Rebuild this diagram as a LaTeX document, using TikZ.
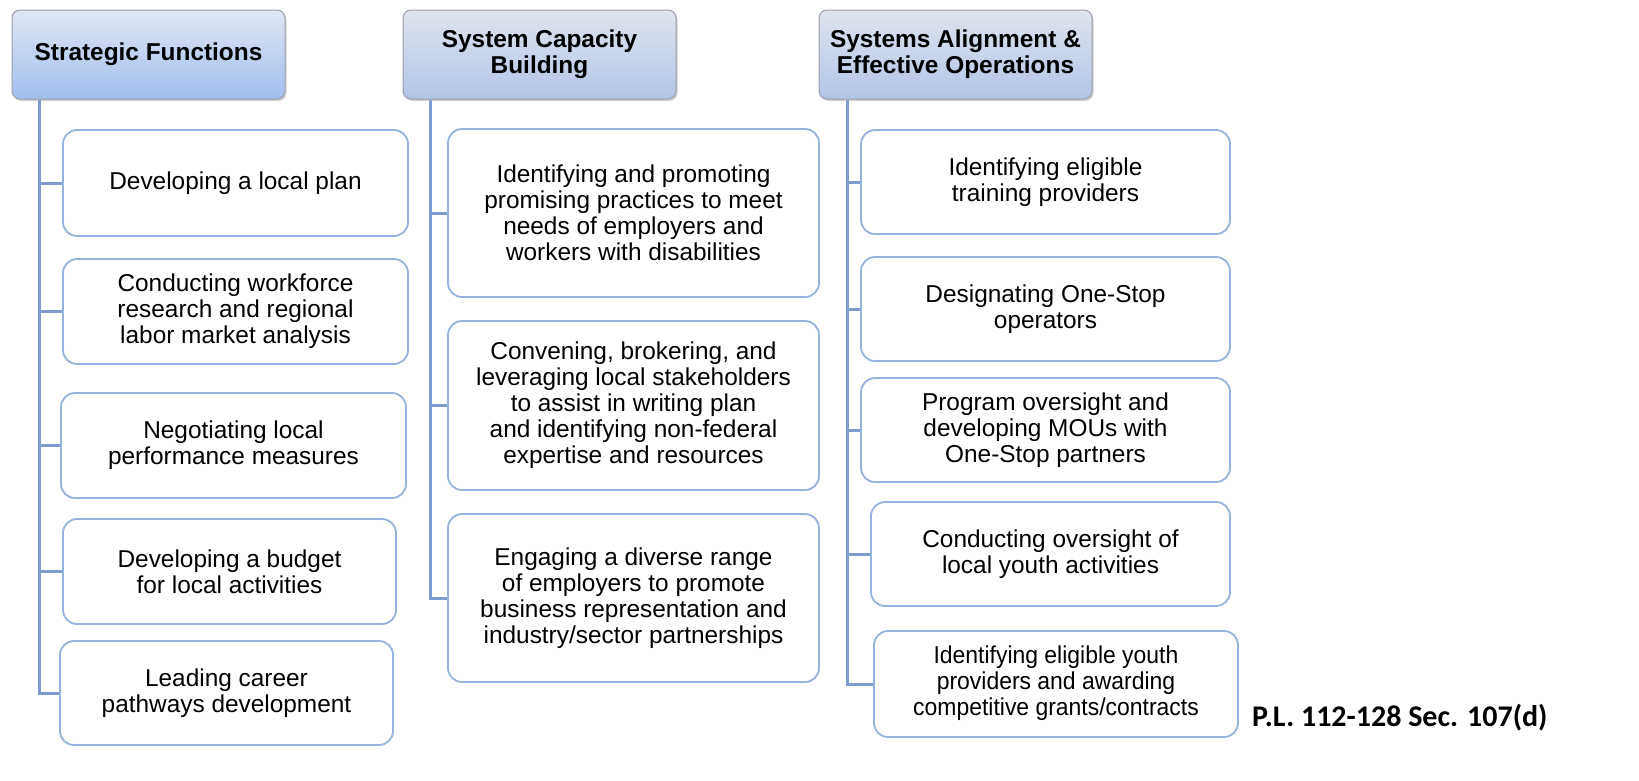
\documentclass[tikz,border=0pt]{standalone}
\usepackage{fontspec}
\setmainfont{Liberation Sans}
\newfontfamily\citefont{Carlito}
\usetikzlibrary{shadows}
\definecolor{conncol}{HTML}{7E9DCE}
\definecolor{boxline}{HTML}{96B3DD}
\definecolor{hdline}{HTML}{9A9FA8}
\definecolor{hdtopA}{HTML}{E0E7F3}
\definecolor{hdbotA}{HTML}{A2BEEE}
\definecolor{hdtopB}{HTML}{DFE4EE}
\definecolor{hdbotB}{HTML}{B2C5E6}
\tikzset{
  x=1pt, y=-1pt,
  txt/.style={font=\fontsize{24.4}{26}\selectfont, align=center, text=black},
  bx/.style={txt, draw=boxline, line width=1.8pt, rounded corners=14pt, fill=white, inner sep=0pt},
  hd/.style={txt, font=\fontsize{24.4}{26}\selectfont\bfseries, draw=hdline, line width=1pt, rounded corners=8pt, inner sep=0pt,
     drop shadow={shadow xshift=1.5pt, shadow yshift=-2pt, opacity=0.35, fill=gray}},
  hdA/.style={hd, top color=hdtopA, bottom color=hdbotA},
  hdB/.style={hd, top color=hdtopB, bottom color=hdbotB},
  conn/.style={draw=conncol, line width=3pt},
}
\newcommand{\bxat}[6]{% name, x1, y1, x2, y2, text
  \pgfmathsetmacro{\mycx}{(#2+#4)/2}\pgfmathsetmacro{\mycy}{(#3+#5)/2}%
  \pgfmathsetmacro{\mywd}{#4-#2}\pgfmathsetmacro{\myht}{#5-#3}%
  \node[bx, minimum width=\mywd pt, minimum height=\myht pt] (#1) at (\mycx,\mycy) {#6};}
\newcommand{\hdat}[7]{% style, name, x1, y1, x2, y2, text
  \pgfmathsetmacro{\mycx}{(#3+#5)/2}\pgfmathsetmacro{\mycy}{(#4+#6)/2}%
  \pgfmathsetmacro{\mywd}{#5-#3}\pgfmathsetmacro{\myht}{#6-#4}%
  \node[#1, minimum width=\mywd pt, minimum height=\myht pt] (#2) at (\mycx,\mycy) {#7};}
\begin{document}
\begin{tikzpicture}
\useasboundingbox (0,0) rectangle (1639,780);
\fill[white] (0,0) rectangle (1639,780);

% headers
\hdat{hdA}{h1}{12}{10}{285}{99}{Strategic Functions}
\hdat{hdB}{h2}{403}{10}{676}{99}{System Capacity\\Building}
\hdat{hdB}{h3}{819}{10}{1092}{99}{Systems Alignment \&\\Effective Operations}

% column 1
\bxat{a1}{63}{130}{408}{236}{Developing a local plan}
\bxat{a2}{63}{259}{408}{364}{Conducting workforce\\research and regional\\labor market analysis}
\bxat{a3}{61}{393}{406}{498}{Negotiating local\\performance measures}
\bxat{a4}{63}{519}{396}{624}{Developing a budget\\for local activities}
\bxat{a5}{60}{641}{393}{745}{Leading career\\pathways development}

% column 2
\bxat{b1}{448}{129}{819}{297}{Identifying and promoting\\promising practices to meet\\needs of employers and\\workers with disabilities}
\bxat{b2}{448}{321}{819}{490}{Convening, brokering, and\\leveraging local stakeholders\\to assist in writing plan\\and identifying non-federal\\expertise and resources}
\bxat{b3}{448}{514}{819}{682}{Engaging a diverse range\\of employers to promote\\business representation and\\industry/sector partnerships}

% column 3
\bxat{c1}{861}{130}{1230}{234}{Identifying eligible\\training providers}
\bxat{c2}{861}{257}{1230}{361}{Designating One-Stop\\operators}
\bxat{c3}{861}{378}{1230}{482}{Program oversight and\\developing MOUs with\\One-Stop partners}
\bxat{c4}{871}{502}{1230}{606}{Conducting oversight of\\local youth activities}
\bxat{c5}{874}{631}{1238}{737}{\scalebox{0.94}[1]{\begin{tabular}{@{}c@{}}Identifying eligible youth\\providers and awarding\\competitive grants/contracts\end{tabular}}}

% connectors
\coordinate (t1) at ([xshift=28pt]h1.south west);
\coordinate (t2) at ([xshift=28pt]h2.south west);
\coordinate (t3) at ([xshift=29pt]h3.south west);
\foreach \n in {a1,a2,a3,a4,a5} \draw[conn] (t1) |- (\n.west);
\foreach \n in {b1,b2,b3} \draw[conn] (t2) |- (\n.west);
\foreach \n in {c1,c2,c3,c4,c5} \draw[conn] (t3) |- (\n.west);

% citation
\node[anchor=west, inner sep=0pt, font=\citefont\bfseries\fontsize{30}{32}\selectfont] (cite) at (1252,718) {P.L. 112-128 Sec. 107(d)};
\end{tikzpicture}
\end{document}
